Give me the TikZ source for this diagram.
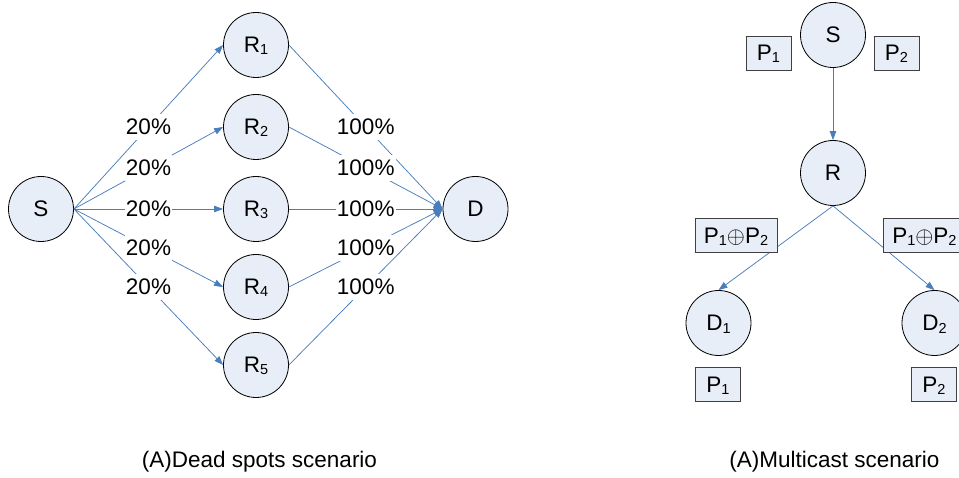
\documentclass[tikz,border=0pt]{standalone}
\usepackage{graphicx}
\usepackage{fontspec}
\setmainfont{Liberation Sans}
\usetikzlibrary{arrows.meta}
\definecolor{linkblue}{HTML}{4A7EBB}
\definecolor{nodefill}{HTML}{E8EEF7}
% small lowered index, as in R1, D2, P1
\newcommand\subidx[1]{\raisebox{-2pt}{\fontsize{14.5}{14.5}\selectfont #1}}
% XOR sign between two packets
\newcommand\xorsign{\scalebox{1.12}{$\oplus$}}
\begin{document}
\begin{tikzpicture}[x=1pt,y=-1pt,
  every node/.style={font=\fontsize{22.5}{26}\selectfont},
  station/.style={circle, draw=black, line width=0.8pt, fill=nodefill,
    minimum size=65pt, inner sep=0pt, text height=16pt, text depth=0pt},
  pkt/.style={draw=black!75, line width=0.8pt, fill=nodefill,
    minimum height=34pt, inner xsep=2pt, text height=16pt, text depth=0pt},
  flow/.style={draw=linkblue, line width=0.75pt,
    -{Triangle[length=9pt,width=6.5pt]}},
  pct/.style={fill=white, inner xsep=1pt, inner ysep=5pt,
    text height=16pt, text depth=0pt, pos=0.5},
  caption/.style={anchor=base, inner sep=0pt}
]
\clip (0,0) rectangle (959,478);

% ---------- dead spots: S -> R1..R5 -> D ----------
\node[station] (S)  at (41,209)  {S};
\node[station] (R1) at (256,45)  {R\subidx{1}};
\node[station] (R2) at (256,127) {R\subidx{2}};
\node[station] (R3) at (256,209) {R\subidx{3}};
\node[station] (R4) at (256,287) {R\subidx{4}};
\node[station] (R5) at (256,365) {R\subidx{5}};
\node[station] (D)  at (475.5,209) {D};

\foreach \r in {R1,R2,R3,R4,R5}{
  \draw[flow] (S.east) -- node[pct]{20\%} (\r.west);
  \draw[flow] (\r.east) -- node[pct]{100\%} (D.west);
}

\node[caption] (capA) at (259.5,467) {(A)Dead spots scenario};

% ---------- multicast: S -> R -> D1, D2 ----------
\node[station] (MS)  at (833,35)    {S};
\node[station] (MR)  at (833,173)   {R};
\node[station] (MD1) at (718.5,323) {D\subidx{1}};
\node[station] (MD2) at (934.5,323) {D\subidx{2}};

\draw[flow] (MS.south) -- (MR.north);
\draw[flow] (MR.south) -- (MD1.north);
\draw[flow] (MR.south) -- (MD2.north);

\node[pkt, minimum width=45pt] (P1s) at (768.5,53) {P\subidx{1}};
\node[pkt, minimum width=45pt] (P2s) at (896.5,53) {P\subidx{2}};
\node[pkt, minimum width=82pt] (X1) at (736,235.5)
  {P\subidx{1}\xorsign P\subidx{2}};
\node[pkt, minimum width=82pt, anchor=west] (X2) at (883,235.5)
  {P\subidx{1}\xorsign P\subidx{2}};
\node[pkt, minimum width=45pt] (P1d) at (718,384.5) {P\subidx{1}};
\node[pkt, minimum width=45pt] (P2d) at (934,384.5) {P\subidx{2}};

\node[caption] (capB) at (834.5,467) {(A)Multicast scenario};
\end{tikzpicture}
\end{document}
